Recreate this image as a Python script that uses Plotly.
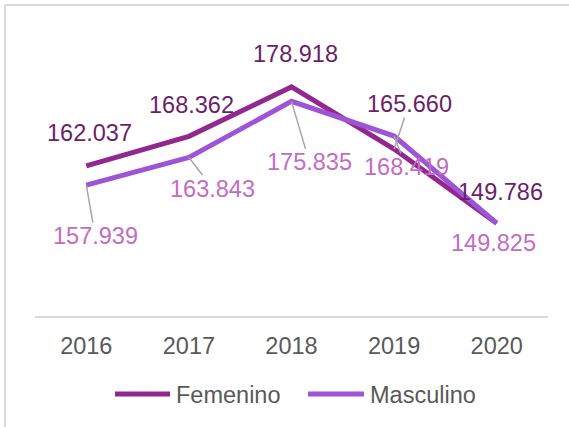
import plotly.graph_objects as go

# ---- data ----
years = ["2016", "2017", "2018", "2019", "2020"]
femenino = [162037, 168362, 178918, 165660, 149786]
masculino = [157939, 163843, 175835, 168419, 149825]
series_names = ["Femenino", "Masculino"]

# ---- layout / style ----
W, H = 569, 427
ML, MR, MT, MB = 35, 21, 35, 111
PW, PH = W - ML - MR, H - MT - MB
FONT = "Liberation Sans, Arial, sans-serif"
FS = 23.5
line_colors = ["#92278F", "#9D55D6"]
label_colors = ["#6B1E69", "#C26CC2"]
leader_color = "#A6A6A6"

# label offsets (pixels from point to label centre) and whether a leader line is drawn
fem_off = [(3, -33), (3, -31), (4, -33), (15, -45), (4, -31)]
fem_lead = [False, False, False, True, False]
mas_off = [(9, 51), (24, 31), (18, 61), (12, 31), (-3, 20)]
mas_lead = [True, True, True, True, False]


def fmt(v):
    return f"{v:,}".replace(",", ".")


def px(x):
    return (x - ML) / PW


def py(y):
    return (H - MB - y) / PH


fig = go.Figure()
for name, vals, col in zip(series_names, [femenino, masculino], line_colors):
    fig.add_trace(go.Scatter(x=years, y=vals, mode="lines", name=name,
                             line=dict(color=col, width=5), showlegend=False,
                             hoverinfo="skip"))

annotations = []
for vals, offs, leads, col in [(femenino, fem_off, fem_lead, label_colors[0]),
                               (masculino, mas_off, mas_lead, label_colors[1])]:
    for i, (v, (dx, dy), lead) in enumerate(zip(vals, offs, leads)):
        annotations.append(dict(
            x=i, y=v, xref="x", yref="y", text=fmt(v),
            showarrow=True, ax=dx, ay=dy,
            arrowhead=0, arrowwidth=1.5, standoff=0,
            arrowcolor=leader_color if lead else "rgba(0,0,0,0)",
            font=dict(family=FONT, size=FS, color=col),
            xanchor="center", yanchor="middle", borderpad=0))

# custom legend
legend_items = [(115, 170, 174), (308, 364, 368)]
shapes = []
for (x0, x1, xt), name, col in zip(legend_items, series_names, line_colors):
    shapes.append(dict(type="line", xref="paper", yref="paper",
                       x0=px(x0), x1=px(x1), y0=py(394), y1=py(394),
                       line=dict(color=col, width=5)))
    annotations.append(dict(xref="paper", yref="paper", x=px(xt), y=py(395),
                            text=name, showarrow=False, xanchor="left",
                            yanchor="middle",
                            font=dict(family=FONT, size=FS, color="#595959")))

# chart border (top and left visible)
border = "#D9D9D9"
shapes.append(dict(type="line", xref="paper", yref="paper", x0=px(5), x1=px(W + 5),
                   y0=py(5), y1=py(5), line=dict(color=border, width=2)))
shapes.append(dict(type="line", xref="paper", yref="paper", x0=px(5), x1=px(5),
                   y0=py(5), y1=py(H + 5), line=dict(color=border, width=2)))

fig.update_layout(
    width=W, height=H,
    margin=dict(l=ML, r=MR, t=MT, b=MB),
    paper_bgcolor="white", plot_bgcolor="white",
    font=dict(family=FONT, size=FS, color="#595959"),
    annotations=annotations, shapes=shapes,
    showlegend=False,
    xaxis=dict(type="category", range=[-0.5, 4.5], showgrid=False,
               showline=True, linecolor="#D9D9D9", linewidth=1.5,
               ticks="", ticklabelstandoff=8, fixedrange=True,
               tickfont=dict(family=FONT, size=FS, color="#595959")),
    yaxis=dict(range=[130000, 190000], showgrid=False, zeroline=False,
               showticklabels=False, showline=False, fixedrange=True),
)

fig.write_html("out.html", config={"displayModeBar": False},
               post_script="document.body.style.margin='0';")
